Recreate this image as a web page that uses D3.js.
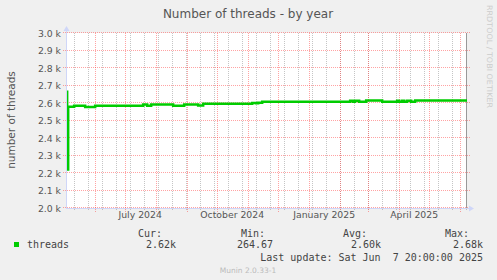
<!DOCTYPE html>
<html>
<head>
<meta charset="utf-8">
<script src="https://cdn.jsdelivr.net/npm/d3@7"></script>
<style>
  body { margin: 0; background: #f0f0f0; }
  svg { display: block; }
</style>
</head>
<body>
<svg id="chart" width="497" height="280"></svg>
<script>
'use strict';

// threads over the last 400 days (step values)
var changeDates = ["2024-05-03", "2024-05-04", "2024-05-05", "2024-05-11", "2024-05-22", "2024-06-01",
  "2024-07-19", "2024-07-23", "2024-07-27", "2024-08-18", "2024-08-29", "2024-09-12", "2024-09-17",
  "2024-11-05", "2024-11-09", "2024-11-11", "2024-11-15", "2025-02-11", "2025-02-14", "2025-02-16",
  "2025-02-20", "2025-02-27", "2025-03-15", "2025-03-30", "2025-04-01", "2025-04-04", "2025-04-06",
  "2025-04-09", "2025-04-13", "2025-04-17", "2025-06-08"];
var threads = [2665, 2220, 2578, 2584, 2577, 2585,
  2591, 2585, 2591, 2585, 2591, 2586, 2596,
  2600, 2598, 2601, 2607, 2613, 2607, 2613,
  2607, 2614, 2607, 2613, 2607, 2613, 2607,
  2613, 2607, 2615, 2615];

var yTicks = [2000, 2100, 2200, 2300, 2400, 2500, 2600, 2700, 2800, 2900, 3000];
var xLabelMonths = ["2024-07-01", "2024-10-01", "2025-01-01", "2025-04-01"];
var xLabels = ["July 2024", "October 2024", "January 2025", "April 2025"];

var legendHead = ["Cur:", "Min:", "Avg:", "Max:"];
var legendVals = ["2.62k", "264.67", "2.60k", "2.68k"];

var parse = d3.timeParse("%Y-%m-%d");
var start = new Date(2024, 4, 3, 20), end = new Date(2025, 5, 7, 20);

var svg = d3.select("#chart");
var x = d3.scaleTime().domain([start, end]).range([67, 467]);
var y = d3.scaleLinear().domain([2000, 3000]).range([208, 33]);
var px = function(v) { return Math.round(v) + 0.5; };

svg.append("rect").attr("width", 497).attr("height", 280).attr("fill", "#f0f0f0");
svg.append("rect").attr("x", 67).attr("y", 33).attr("width", 400).attr("height", 175).attr("fill", "#fff");

// grid
var minor = d3.timeDay.range(new Date(2024, 4, 11), end, 14);
var major = d3.timeMonth.range(new Date(2024, 5, 1), end);
var g = svg.append("g");
g.selectAll(".minor").data(minor).enter().append("line")
  .attr("x1", function(d) { return px(x(d)); }).attr("x2", function(d) { return px(x(d)); })
  .attr("y1", 33).attr("y2", 211)
  .attr("stroke", "rgba(140,140,140,0.5)").attr("stroke-dasharray", "1,1");
g.selectAll(".major").data(major).enter().append("line")
  .attr("x1", function(d) { return px(x(d)); }).attr("x2", function(d) { return px(x(d)); })
  .attr("y1", 33).attr("y2", 212)
  .attr("stroke", "rgba(255,50,50,0.45)").attr("stroke-dasharray", "1,1");
g.selectAll(".hgrid").data(yTicks).enter().append("line")
  .attr("x1", 63).attr("x2", 470)
  .attr("y1", function(d) { return px(y(d)) - 1; }).attr("y2", function(d) { return px(y(d)) - 1; })
  .attr("stroke", "rgba(255,50,50,0.45)").attr("stroke-dasharray", "1,1");

// right frame line
svg.append("line").attr("x1", 466.5).attr("x2", 466.5).attr("y1", 33).attr("y2", 208)
  .attr("stroke", "#999");

// series
svg.append("clipPath").attr("id", "clip").append("rect")
  .attr("x", 67).attr("y", 33).attr("width", 400).attr("height", 175);
var pts = changeDates.map(function(d, i) { return { t: parse(d), v: threads[i] }; });
svg.append("path").datum(pts)
  .attr("clip-path", "url(#clip)")
  .attr("fill", "none").attr("stroke", "#00cc00").attr("stroke-width", 2.5)
  .attr("d", d3.line().curve(d3.curveStepAfter)
    .x(function(d) { return x(d.t); }).y(function(d) { return y(d.v); }));

// axes
svg.append("line").attr("x1", 66.5).attr("x2", 66.5).attr("y1", 208.5).attr("y2", 30).attr("stroke", "#cfd6f8");
svg.append("path").attr("d", "M63.5,31 L66.5,26 L69.5,31 Z").attr("fill", "#cfd6f8");
svg.append("line").attr("x1", 66).attr("x2", 470).attr("y1", 208.5).attr("y2", 208.5).attr("stroke", "#cfd6f8");
svg.append("path").attr("d", "M469,205.5 L474,208.5 L469,211.5 Z").attr("fill", "#cfd6f8");

var font = "'DejaVu Sans', sans-serif", mono = "'DejaVu Sans Mono', monospace";

svg.selectAll(".ylab").data(yTicks).enter().append("text")
  .attr("x", 61).attr("y", function(d) { return y(d) + 3.5; })
  .attr("text-anchor", "end").attr("font-family", font).attr("font-size", 9.3).attr("fill", "#555")
  .text(function(d) { return d3.format(".1f")(d / 1000) + " k"; });

svg.selectAll(".xlab").data(xLabelMonths).enter().append("text")
  .attr("x", function(d) { return x(d3.timeDay.offset(parse(d), 15)); }).attr("y", 218)
  .attr("text-anchor", "middle").attr("font-family", font).attr("font-size", 9.3).attr("fill", "#555")
  .text(function(d, i) { return xLabels[i]; });

svg.append("text").attr("x", 248).attr("y", 18).attr("text-anchor", "middle")
  .attr("font-family", font).attr("font-size", 12).attr("fill", "#555")
  .text("Number of threads - by year");

svg.append("text").attr("transform", "translate(15,120) rotate(-90)").attr("text-anchor", "middle")
  .attr("font-family", font).attr("font-size", 10.5).attr("fill", "#555")
  .text("number of threads");

svg.append("text").attr("transform", "translate(487,5) rotate(90)")
  .attr("font-family", font).attr("font-size", 7.5).attr("fill", "#ccc")
  .attr("textLength", 103).attr("lengthAdjust", "spacingAndGlyphs")
  .text("RRDTOOL / TOBI OETIKER");

// legend
var headX = [162, 265, 367, 469], valX = [176, 273, 381, 483];
svg.selectAll(".lh").data(legendHead).enter().append("text")
  .attr("x", function(d, i) { return headX[i]; }).attr("y", 237)
  .attr("text-anchor", "end").attr("font-family", mono).attr("font-size", 10).attr("fill", "#444")
  .text(function(d) { return d; });
svg.selectAll(".lv").data(legendVals).enter().append("text")
  .attr("x", function(d, i) { return valX[i]; }).attr("y", 248)
  .attr("text-anchor", "end").attr("font-family", mono).attr("font-size", 10).attr("fill", "#444")
  .text(function(d) { return d; });
svg.append("rect").attr("x", 14).attr("y", 242).attr("width", 5).attr("height", 5).attr("fill", "#00cc00");
svg.append("text").attr("x", 27).attr("y", 248).attr("font-family", mono).attr("font-size", 10).attr("fill", "#444")
  .text("threads");
svg.append("text").attr("x", 483).attr("y", 261).attr("text-anchor", "end")
  .attr("font-family", mono).attr("font-size", 10).attr("fill", "#444")
  .attr("xml:space", "preserve").style("white-space", "pre")
  .text("Last update: Sat Jun  7 20:00:00 2025");

svg.append("text").attr("x", 248).attr("y", 273).attr("text-anchor", "middle")
  .attr("font-family", font).attr("font-size", 7.5).attr("fill", "#bbb")
  .text("Munin 2.0.33-1");
</script>
</body>
</html>
